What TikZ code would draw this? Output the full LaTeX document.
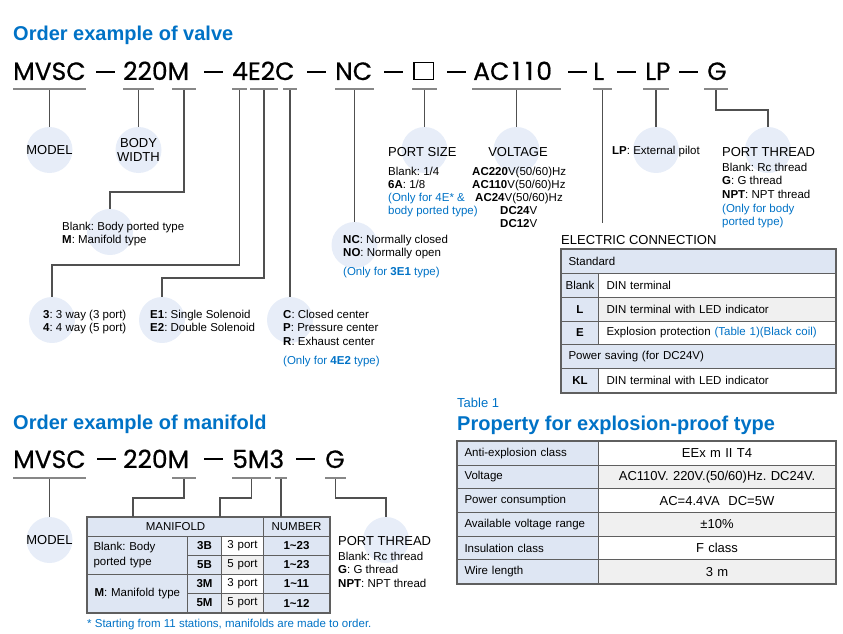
\documentclass[tikz,border=0pt]{standalone}
\usepackage{fontspec}
\setmainfont{Liberation Sans}
\newfontfamily\codefont[FakeBold=0.6]{Poppins}
\usetikzlibrary{positioning}
\definecolor{ordblue}{RGB}{0,114,198}
\definecolor{circfill}{RGB}{231,237,248}
\definecolor{cellblue}{RGB}{222,230,243}
\definecolor{cellgray}{RGB}{240,240,240}
\definecolor{linegray}{RGB}{80,80,80}
\definecolor{ulgray}{RGB}{135,135,135}
\definecolor{tabline}{RGB}{95,95,95}
\frenchspacing
\tikzset{
  code/.style={font=\codefont\fontsize{25}{25}\selectfont, inner sep=0pt, anchor=base west},
  codedash/.style={fill=black, minimum width=19pt, minimum height=1.7pt, inner sep=0pt},
  sqbox/.style={draw=black, line width=1.5pt, minimum width=19.5pt, minimum height=16.5pt, inner sep=0pt},
  ubar/.style={fill=ulgray, minimum height=1.4pt, inner sep=0pt, minimum width=#1},
  conn/.style={draw=linegray, line width=1.2pt},
  bubble/.style={circle, fill=circfill, minimum size=46pt, inner sep=0pt},
  lbl/.style={font=\fontsize{13}{14}\selectfont, inner sep=0pt},
  txt/.style={font=\fontsize{11.5}{13.3}\selectfont, inner sep=0pt, align=left, anchor=base west},
  note/.style={txt, text=ordblue},
  ttl/.style={font=\bfseries\fontsize{20}{24}\selectfont, text=ordblue, inner sep=0pt, anchor=base west},
  cell/.style={draw=tabline, line width=1pt, anchor=north west, inner ysep=0pt, font=\fontsize{11.5}{13}\selectfont},
  ecl/.style={cell, fill=cellblue, inner xsep=0pt, text width=37pt, align=center, minimum height=23.83pt},
  ecr/.style={cell, fill=white, inner xsep=8pt, text width=221pt, align=left, minimum height=23.83pt},
  ecw/.style={cell, fill=cellblue, inner xsep=7pt, text width=260pt, align=left, minimum height=23.83pt},
  pl/.style={cell, fill=cellblue, inner xsep=7pt, text width=127pt, align=left, minimum height=23.67pt},
  pr/.style={cell, fill=white, inner xsep=0pt, text width=237pt, align=center, minimum height=23.67pt, font=\fontsize{13}{14}\selectfont},
  mc/.style={cell, fill=cellblue, inner xsep=0pt, align=center, minimum height=19pt},
  tabframe/.style={draw=tabline, line width=1.8pt}
}
\begin{document}
\begin{tikzpicture}[x=1pt,y=-1pt]
\useasboundingbox (0,0) rectangle (843,634);

% ---- order example of valve
\node[ttl] (ttlValve) at (13,41) {Order example of valve};

\node[code] (cMVSC) at (13,80) {MVSC};
\node[codedash] (d1) at (105,72) {};
\node[code] (c220M) at (123,80) {220M};
\node[codedash] (d2) at (213,72) {};
\node[code] (c4E2C) at (232,80) {4E2C};
\node[codedash] (d3) at (316,72) {};
\node[code] (cNC) at (335,80) {NC};
\node[codedash] (d4) at (393,72) {};
\node[sqbox] (cBox) at (423.5,71) {};
\node[codedash] (d5) at (456,72) {};
\node[code] (cAC) at (473,80) {AC\kern3pt1\kern5pt1\kern3pt0};
\node[codedash] (d6) at (577,72) {};
\node[code] (cL) at (593,80) {L};
\node[codedash] (d7) at (626,72) {};
\node[code] (cLP) at (645,80) {LP};
\node[codedash] (d8) at (688,72) {};
\node[code] (cG) at (707,80) {G};

\node[ubar=73pt] (uMVSC) at (49.5,89) {};
\node[ubar=31pt] (u22) at (138.5,89) {};
\node[ubar=24pt] (uM) at (184,89) {};
\node[ubar=15pt] (u4) at (239.5,89) {};
\node[ubar=28pt] (uE) at (264,89) {};
\node[ubar=14pt] (uC) at (290,89) {};
\node[ubar=39pt] (uNC) at (354.5,89) {};
\node[ubar=25pt] (uBox) at (424.5,89) {};
\node[ubar=89pt] (uAC) at (516.5,89) {};
\node[ubar=19pt] (uL) at (602.5,89) {};
\node[ubar=26pt] (uLP) at (656,89) {};
\node[ubar=24pt] (uG) at (716,89) {};

\node[bubble] (bModel) at (49.5,150) {};
\node[bubble] (bWidth) at (138.5,150) {};
\node[bubble] (bType) at (110,232) {};
\node[bubble] (bWay) at (52,320) {};
\node[bubble] (bSol) at (162,320) {};
\node[bubble] (bCtr) at (290,320) {};
\node[bubble] (bNC) at (354.5,245) {};
\node[bubble] (bSize) at (424.5,150) {};
\node[bubble] (bVolt) at (516.5,150) {};
\node[bubble] (bPilot) at (656,150) {};
\node[bubble] (bThread) at (768,150) {};

\coordinate (jType) at (110,192);
\coordinate (jWay) at (52,265);
\coordinate (jSol) at (162,278);
\coordinate (jThr) at (768,110);
\coordinate (eL) at (602.5,223);

\draw[conn] (uMVSC.south) -- (bModel.north);
\draw[conn] (u22.south) -- (bWidth.north);
\draw[conn] (uM.south) |- (jType) -- (bType.north);
\draw[conn] (u4.south) |- (jWay) -- (bWay.north);
\draw[conn] (uE.south) |- (jSol) -- (bSol.north);
\draw[conn] (uC.south) -- (bCtr.north);
\draw[conn] (uNC.south) -- (bNC.north);
\draw[conn] (uBox.south) -- (bSize.north);
\draw[conn] (uAC.south) -- (bVolt.north);
\draw[conn] (uL.south) -- (eL);
\draw[conn] (uLP.south) -- (bPilot.north);
\draw[conn] (uG.south) |- (jThr) -- (bThread.north);

% multi-line texts sit on the baseline of their last line
\node[lbl] (tModel) at (bModel) {MODEL};
\node[lbl, align=center] (tWidth) at (bWidth) {BODY\\WIDTH};
\node[txt] (tType) at (62,243.3) {Blank: Body ported type\\\textbf{M}: Manifold type};
\node[txt] (tWay) at (43,331.3) {\textbf{3}: 3 way (3 port)\\\textbf{4}: 4 way (5 port)};
\node[txt] (tSol) at (150,331.3) {\textbf{E1}: Single Solenoid\\\textbf{E2}: Double Solenoid};
\node[txt, font=\fontsize{11.5}{13.5}\selectfont] (tCtr) at (283,345) {\textbf{C}: Closed center\\\textbf{P}: Pressure center\\\textbf{R}: Exhaust center};
\node[note] (nCtr) at (283,364) {(Only for \textbf{4E2} type)};
\node[txt] (tNC) at (343,256.3) {\textbf{NC}: Normally closed\\\textbf{NO}: Normally open};
\node[note] (nNC) at (343,275) {(Only for \textbf{3E1} type)};
\node[lbl, anchor=base west] (tSize) at (388,156) {PORT SIZE};
\node[txt] (tSizeV) at (388,188.3) {Blank: 1/4\\\textbf{6A}: 1/8};
\node[note] (nSize) at (388,214.3) {(Only for 4E* \&\\body ported type)};
\node[lbl, anchor=base] (tVolt) at (518,156) {VOLTAGE};
\node[txt] (tV1) at (472,188.3) {\textbf{AC220}V(50/60)Hz\\\textbf{AC110}V(50/60)Hz};
\node[txt] (tV2) at (475,201.5) {\textbf{AC24}V(50/60)Hz};
\node[txt] (tV3) at (500,227.5) {\textbf{DC24}V\\\textbf{DC12}V};
\node[txt] (tPilot) at (612,154) {\textbf{LP}: External pilot};
\node[lbl, anchor=base west] (tThread) at (722,156) {PORT THREAD};
\node[txt] (tThreadV) at (722,198.1) {Blank: Rc thread\\\textbf{G}: G thread\\\textbf{NPT}: NPT thread};
\node[note] (nThread) at (722,225.3) {(Only for body\\ported type)};

% ---- electric connection
\node[lbl, anchor=base west] (tEC) at (561,244) {ELECTRIC CONNECTION};
\node[ecw] (ec0) at (561,249) {Standard};
\node[ecl] (ec1a) at (561,272.83) {Blank};
\node[ecr] (ec1b) at (598,272.83) {DIN terminal};
\node[ecl] (ec2a) at (561,296.67) {\textbf{L}};
\node[ecr, fill=cellgray] (ec2b) at (598,296.67) {DIN terminal with LED indicator};
\node[ecl] (ec3a) at (561,320.5) {\textbf{E}};
\node[ecr] (ec3b) at (598,320.5) {Explosion protection \textcolor{ordblue}{(Table 1)(Black coil)}};
\node[ecw] (ec4) at (561,344.33) {Power saving (for DC24V)};
\node[ecl] (ec5a) at (561,368.17) {\textbf{KL}};
\node[ecr] (ec5b) at (598,368.17) {DIN terminal with LED indicator};
\draw[tabframe] (ec0.north west) rectangle (ec5b.south east);

% ---- table 1
\node[lbl, anchor=base west, text=ordblue] (tTab) at (457,407.5) {Table 1};
\node[ttl] (tProp) at (457,430) {Property for explosion-proof type};
\node[pl] (p1a) at (457,441) {Anti-explosion class};
\node[pr] (p1b) at (598,441) {EEx m II T4};
\node[pl] (p2a) at (457,464.67) {Voltage};
\node[pr, fill=cellgray] (p2b) at (598,464.67) {AC110V. 220V.(50/60)Hz. DC24V.};
\node[pl] (p3a) at (457,488.33) {Power consumption};
\node[pr] (p3b) at (598,488.33) {AC=4.4VA\ \ DC=5W};
\node[pl] (p4a) at (457,512) {Available voltage range};
\node[pr, fill=cellgray] (p4b) at (598,512) {±10\%};
\node[pl] (p5a) at (457,535.67) {Insulation class};
\node[pr] (p5b) at (598,535.67) {F class};
\node[pl] (p6a) at (457,559.33) {Wire length};
\node[pr, fill=cellgray] (p6b) at (598,559.33) {3 m};
\draw[tabframe] (p1a.north west) rectangle (p6b.south east);

% ---- order example of manifold
\node[ttl] (ttlMani) at (13,429) {Order example of manifold};

\node[code] (mMVSC) at (13,468) {MVSC};
\node[codedash] (md1) at (106,459) {};
\node[code] (m220M) at (123,468) {220M};
\node[codedash] (md2) at (213,459) {};
\node[code] (m5M3) at (232,468) {5M3};
\node[codedash] (md3) at (305,459) {};
\node[code] (mG) at (325,468) {G};

\node[ubar=73pt] (uMM) at (49.5,478) {};
\node[ubar=24pt] (uMM2) at (184,478) {};
\node[ubar=39pt] (u5M) at (251.5,478) {};
\node[ubar=12pt] (u3) at (281,478) {};
\node[ubar=21pt] (uMG) at (335.5,478) {};

\node[bubble] (bMModel) at (49.5,540) {};
\node[bubble] (bMThread) at (386,540) {};

\node[mc, text width=176pt] (mHead) at (87,517) {MANIFOLD};
\node[mc, text width=66pt] (mNum) at (263,517) {NUMBER};
\node[mc, inner xsep=6pt, text width=88pt, align=left, minimum height=38pt, font=\fontsize{11.5}{15}\selectfont] (mBody) at (87,536) {Blank: Body\\ported type};
\node[mc, text width=34pt] (m3B) at (187,536) {\textbf{3B}};
\node[mc, text width=42pt, fill=white] (m3Bp) at (221,536) {3 port};
\node[mc, text width=66pt] (m3Bn) at (263,536) {\textbf{1\textasciitilde23}};
\node[mc, text width=34pt] (m5B) at (187,555) {\textbf{5B}};
\node[mc, text width=42pt, fill=cellgray] (m5Bp) at (221,555) {5 port};
\node[mc, text width=66pt] (m5Bn) at (263,555) {\textbf{1\textasciitilde23}};
\node[mc, inner xsep=7pt, text width=86pt, align=left, minimum height=38pt] (mMan) at (87,574) {\textbf{M}: Manifold type};
\node[mc, text width=34pt] (m3M) at (187,574) {\textbf{3M}};
\node[mc, text width=42pt, fill=white] (m3Mp) at (221,574) {3 port};
\node[mc, text width=66pt] (m3Mn) at (263,574) {\textbf{1\textasciitilde11}};
\node[mc, text width=34pt] (m5M) at (187,593) {\textbf{5M}};
\node[mc, text width=42pt, fill=cellgray] (m5Mp) at (221,593) {5 port};
\node[mc, text width=66pt] (m5Mn) at (263,593) {\textbf{1\textasciitilde12}};
\draw[tabframe] (mHead.north west) rectangle (m5Mn.south east);

\coordinate (jA) at (133,498);
\coordinate (jB) at (220,498);
\draw[conn] (uMM.south) -- (bMModel.north);
\draw[conn] (uMM2.south) |- (jA) -- (jA |- mHead.north);
\draw[conn] (u5M.south) |- (jB) -- (jB |- mHead.north);
\draw[conn] (u3.south) -- (u3.south |- mNum.north);
\draw[conn] (uMG.south) |- (bMThread.north |- jA) -- (bMThread.north);

\node[lbl] (tMModel) at (bMModel) {MODEL};
\node[lbl, anchor=base west] (tMThread) at (338,545) {PORT THREAD};
\node[txt, font=\fontsize{11.5}{13.7}\selectfont] (tMThreadV) at (338,587.4) {Blank: Rc thread\\\textbf{G}: G thread\\\textbf{NPT}: NPT thread};
\node[note] (mNote) at (87,627) {* Starting from 11 stations, manifolds are made to order.};
\end{tikzpicture}
\end{document}
